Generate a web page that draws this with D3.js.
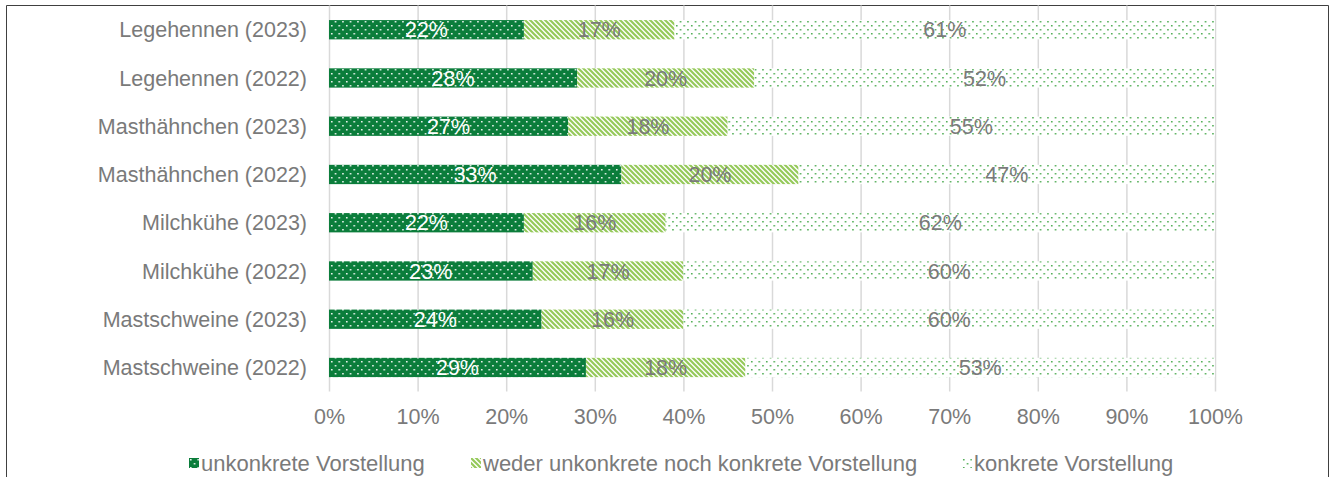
<!DOCTYPE html>
<html>
<head>
<meta charset="utf-8">
<script src="https://cdn.jsdelivr.net/npm/d3@7"></script>
<style>
  body { margin: 0; background: #fff; }
  svg { display: block; font-family: "Liberation Sans", Arial, sans-serif; }
</style>
</head>
<body>
<svg id="chart" width="1335" height="477"></svg>
<script>
const categories = [
    "Legehennen (2023)", "Legehennen (2022)",
    "Masthähnchen (2023)", "Masthähnchen (2022)",
    "Milchkühe (2023)", "Milchkühe (2022)",
    "Mastschweine (2023)", "Mastschweine (2022)"
];
const seriesNames = [
    "unkonkrete Vorstellung",
    "weder unkonkrete noch konkrete Vorstellung",
    "konkrete Vorstellung"
];
const unkonkret = [22, 28, 27, 33, 22, 23, 24, 29];
const weder = [17, 20, 18, 20, 16, 17, 16, 18];
const konkret = [61, 52, 55, 47, 62, 60, 60, 53];
const tickValues = [0, 10, 20, 30, 40, 50, 60, 70, 80, 90, 100];

const textGray = "#7a7a7a";
const svg = d3.select("#chart");

// patterns like the Excel fills
const defs = svg.append("defs");
const dotPattern = (id, bg, dot) => {
    const p = defs.append("pattern").attr("id", id)
        .attr("width", 7.5).attr("height", 8)
        .attr("patternUnits", "userSpaceOnUse");
    p.append("rect").attr("width", 7.5).attr("height", 8).attr("fill", bg);
    p.append("rect").attr("x", 1).attr("y", 1).attr("width", 1.5).attr("height", 1.5).attr("fill", dot);
    p.append("rect").attr("x", 4.75).attr("y", 5).attr("width", 1.5).attr("height", 1.5).attr("fill", dot);
};
dotPattern("pDark", "#0b7d3b", "#ffffff");
dotPattern("pLight", "#ffffff", "#45a84a");

const stripe = defs.append("pattern").attr("id", "pStripe")
    .attr("width", 5).attr("height", 5)
    .attr("patternUnits", "userSpaceOnUse");
stripe.append("rect").attr("width", 5).attr("height", 5).attr("fill", "#ffffff");
stripe.append("path")
    .attr("d", "M-1,-1L6,6M4,-1L6,1M-1,4L1,6")
    .attr("stroke", "#95c95a").attr("stroke-width", 2.2);

const fills = ["url(#pDark)", "url(#pStripe)", "url(#pLight)"];
const labelColors = ["#ffffff", textGray, textGray];

// frame
svg.append("path")
    .attr("d", "M6.5,480V5.5H1328.5V480")
    .attr("fill", "none").attr("stroke", "#404040").attr("stroke-width", 1);

const x = d3.scaleLinear().domain([0, 100]).range([329, 1215]);
const y = d3.scaleBand().domain(categories).range([5.6, 391.6])
    .paddingInner(0.6).paddingOuter(0.3);

// gridlines
svg.append("g").selectAll("line")
    .data(tickValues)
    .join("line")
    .attr("x1", d => x(d) + 0.5).attr("x2", d => x(d) + 0.5)
    .attr("y1", 5.6).attr("y2", 391.6)
    .attr("stroke", "#d9d9d9").attr("stroke-width", 1.5);

// x axis labels
const xAxis = svg.append("g")
    .attr("transform", "translate(0,391.6)")
    .call(d3.axisBottom(x).tickValues(tickValues).tickSize(0).tickPadding(17)
        .tickFormat(d => d + "%"));
xAxis.select(".domain").remove();
xAxis.selectAll("text").attr("fill", textGray).attr("font-size", 21.5)
    .attr("font-family", "Liberation Sans, Arial, sans-serif");

// y labels
svg.append("g").selectAll("text")
    .data(categories)
    .join("text")
    .attr("x", 307)
    .attr("y", d => y(d) + y.bandwidth() / 2)
    .attr("dy", "0.35em")
    .attr("text-anchor", "end")
    .attr("font-size", 21.5)
    .attr("fill", textGray)
    .text(d => d);

// stacked data
const rows = categories.map((c, i) => ({ cat: c, v: [unkonkret[i], weder[i], konkret[i]] }));
const segs = [];
rows.forEach(r => {
    let acc = 0;
    r.v.forEach((v, s) => {
        segs.push({ cat: r.cat, s, x0: acc, x1: acc + v, v });
        acc += v;
    });
});

svg.append("g").selectAll("rect")
    .data(segs)
    .join("rect")
    .attr("x", d => x(d.x0))
    .attr("y", d => y(d.cat))
    .attr("width", d => x(d.x1) - x(d.x0))
    .attr("height", y.bandwidth())
    .attr("fill", d => fills[d.s]);

svg.append("g").selectAll("text")
    .data(segs)
    .join("text")
    .attr("x", d => x((d.x0 + d.x1) / 2))
    .attr("y", d => y(d.cat) + y.bandwidth() / 2)
    .attr("dy", "0.36em")
    .attr("text-anchor", "middle")
    .attr("font-size", 21.5)
    .attr("fill", d => labelColors[d.s])
    .text(d => d.v + "%");

// legend
const legendX = [189, 471, 962];
const legend = svg.append("g").selectAll("g")
    .data(seriesNames)
    .join("g")
    .attr("transform", (d, i) => `translate(${legendX[i]},458)`);
legend.append("rect")
    .attr("width", 10).attr("height", 10)
    .attr("fill", (d, i) => fills[i]);
legend.append("text")
    .attr("x", 12).attr("y", 5)
    .attr("dy", "0.35em")
    .attr("font-size", 22)
    .attr("fill", textGray)
    .text(d => d);
</script>
</body>
</html>
